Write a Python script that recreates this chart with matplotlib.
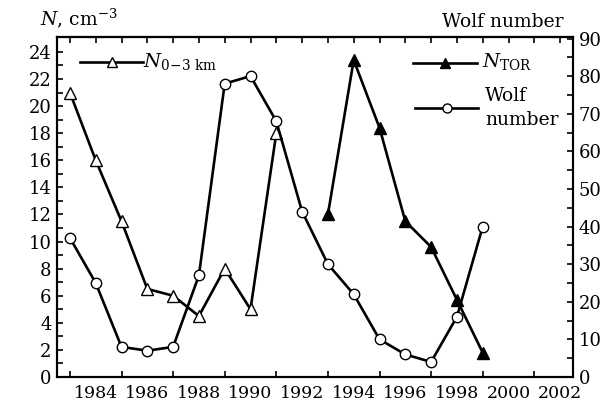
import matplotlib
matplotlib.use("Agg")
import matplotlib.pyplot as plt
from matplotlib.lines import Line2D
import numpy as np

plt.rcParams['font.family'] = ['DejaVu Serif']
plt.rcParams['mathtext.fontset'] = 'dejavuserif'

years_n03 = [1983, 1984, 1985, 1986, 1987, 1988, 1989, 1990, 1991]
n03 = [21, 16, 11.5, 6.5, 6, 4.5, 8, 5, 18]

years_tor = [1993, 1994, 1995, 1996, 1997, 1998, 1999]
ntor = [12, 23.4, 18.4, 11.5, 9.6, 5.7, 1.8]

years_wolf = [1983, 1984, 1985, 1986, 1987, 1988, 1989, 1990, 1991, 1992,
              1993, 1994, 1995, 1996, 1997, 1998, 1999]
wolf = [37, 25, 8, 7, 8, 27, 78, 80, 68, 44, 30, 22, 10, 6, 4, 16, 40]

xlabels = [1984, 1986, 1988, 1990, 1992, 1994, 1996, 1998, 2000, 2002]
left_ticks = [0, 2, 4, 6, 8, 10, 12, 14, 16, 18, 20, 22, 24]
right_ticks = [0, 10, 20, 30, 40, 50, 60, 70, 80, 90]

W, H = 607, 408
fig = plt.figure(figsize=(W/100, H/100), dpi=100)
ax = fig.add_axes([57/W, 1 - 377/H, (573-57)/W, (377-37)/H])
ax2 = ax.twinx()

lw = 1.9
fs = 13
ax.plot(years_n03, n03, color='black', lw=lw, marker='^', ms=8,
        mfc='white', mec='black', mew=1.0, zorder=3)
ax.plot(years_tor, ntor, color='black', lw=lw, marker='^', ms=8,
        mfc='black', mec='black', mew=1.0, zorder=3)
ax2.plot(years_wolf, wolf, color='black', lw=lw, marker='o', ms=7.5,
         mfc='white', mec='black', mew=1.0, zorder=3)

ax.set_xlim(1982.5, 2002.5)
ax.set_ylim(0, 25.1)
ax2.set_ylim(0, 90.4)

ax.set_xticks(xlabels)
ax.set_xticklabels([str(v) for v in xlabels], fontsize=12.5)
ax.set_xticks(np.arange(1983, 2003, 2), minor=True)
ax.tick_params(axis='x', which='major', length=0, pad=6)
ax.tick_params(axis='x', which='minor', direction='in', length=4, width=1.2)

top = ax.secondary_xaxis('top')
top.set_xticks(np.arange(1983, 2003, 1))
top.tick_params(direction='in', length=4, width=1.2, labeltop=False)
top.spines['top'].set_linewidth(1.5)

ax.set_yticks(left_ticks)
ax.set_yticklabels([str(v) for v in left_ticks], fontsize=fs)
ax.set_yticks(np.arange(1, 25, 2), minor=True)
ax.tick_params(axis='y', which='both', direction='in', length=4, width=1.2, pad=4)

ax2.set_yticks(right_ticks)
ax2.set_yticklabels([str(v) for v in right_ticks], fontsize=fs)
ax2.set_yticks(np.arange(5, 90, 10), minor=True)
ax2.tick_params(axis='y', which='both', direction='in', length=4, width=1.2, pad=4)

for a in (ax, ax2):
    for s in a.spines.values():
        s.set_linewidth(1.5)

def fx(x):
    return x / W

def fy(y):
    return 1 - y / H

fig.text(fx(40), fy(18), r'$N$, cm$^{-3}$', fontsize=fs + 0.5, va='center', ha='left')
fig.text(fx(564), fy(22), 'Wolf number', fontsize=fs + 0.5, va='center', ha='right')

# manual legend entries
def legend_entry(x0, x1, y, marker, mfc):
    fig.add_artist(Line2D([fx(x0), fx(x1)], [fy(y), fy(y)], color='black', lw=lw,
                          transform=fig.transFigure))
    fig.add_artist(Line2D([fx((x0 + x1) / 2)], [fy(y)], color='black', marker=marker,
                          ms=7 if marker == '^' else 6.5, mfc=mfc, mec='black', mew=1.0,
                          transform=fig.transFigure))

legend_entry(80, 143, 62, '^', 'white')
fig.text(fx(143), fy(62), r'$N_{\mathrm{0\!-\!3\ km}}$', fontsize=fs + 1, va='center', ha='left')

legend_entry(413, 477, 63, '^', 'black')
fig.text(fx(482), fy(62), r'$N_{\mathrm{TOR}}$', fontsize=fs + 1, va='center', ha='left')

legend_entry(415, 478, 108, 'o', 'white')
fig.text(fx(485), fy(96), 'Wolf', fontsize=fs + 0.5, va='center', ha='left')
fig.text(fx(485), fy(120), 'number', fontsize=fs + 0.5, va='center', ha='left')

fig.savefig('out.png', dpi=100)
